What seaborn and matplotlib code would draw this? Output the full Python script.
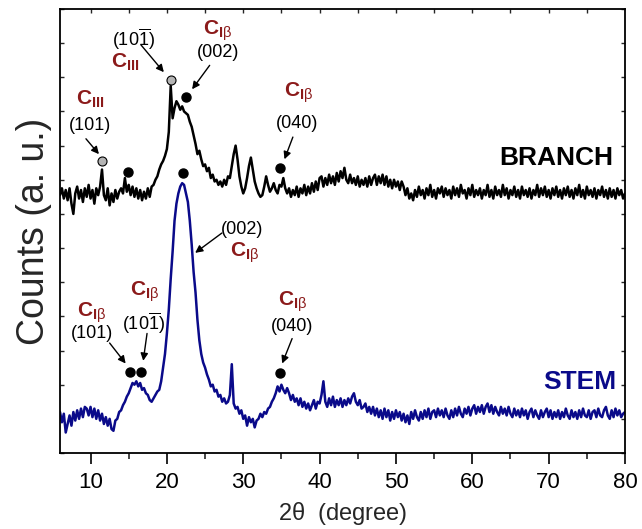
import numpy as np
import pandas as pd
import matplotlib
matplotlib.use("Agg")
import matplotlib.pyplot as plt
import seaborn as sns

# ---------------- data ----------------
# scan positions (2-theta, degrees), step 0.25
two_theta = np.round(np.arange(6.0, 80.001, 0.25), 2)

branch = [
    7.55, 7.75, 7.45, 7.7, 7.4, 7.75, 7.3, 7.0, 7.6, 7.8, 7.45, 7.7, 7.35, 7.75, 7.5, 7.85, 7.45, 7.7, 7.3, 7.75,
    7.55, 7.8, 8.3, 7.55, 7.4, 7.75, 7.25, 7.6, 7.35, 7.7, 7.45, 7.65, 7.75, 7.6, 8.05, 7.65, 7.85, 7.55, 7.8, 7.5,
    7.75, 7.45, 7.7, 7.4, 7.65, 7.45, 7.75, 7.5, 7.8, 7.85, 8.0, 8.1, 8.3, 8.45, 8.55, 8.7, 8.9, 9.4, 10.75, 9.8,
    10.1, 10.3, 10.2, 10.05, 10.15, 10.0, 9.95, 9.9, 9.7, 9.55, 9.3, 9.05, 8.75, 8.85, 8.6, 8.4, 8.45, 8.25, 8.35, 8.05,
    8.15, 7.95, 8.0, 7.85, 7.95, 7.8, 8.0, 7.85, 8.1, 8.05, 8.4, 8.75, 9.0, 8.6, 8.1, 7.8, 7.6, 7.75, 8.05, 8.4,
    8.65, 8.3, 7.95, 7.75, 7.6, 7.5, 7.55, 7.8, 8.1, 7.85, 7.65, 7.75, 7.9, 7.7, 7.6, 7.85, 7.8, 8.05, 7.75, 7.6,
    7.75, 7.5, 7.7, 7.55, 7.8, 7.5, 7.75, 7.6, 7.85, 7.55, 7.8, 7.6, 7.9, 7.65, 7.95, 7.7, 8.05, 8.1, 7.8, 8.05,
    7.85, 8.15, 7.9, 8.1, 7.85, 8.2, 7.95, 8.25, 8.05, 8.35, 8.0, 7.9, 8.15, 7.9, 8.05, 7.85, 8.1, 7.8, 8.0, 7.85,
    8.05, 7.8, 8.1, 7.85, 8.05, 8.15, 7.85, 8.1, 7.9, 8.15, 7.85, 8.1, 7.8, 8.0, 7.75, 8.0, 7.8, 7.95, 7.7, 7.95,
    7.8, 7.55, 7.75, 7.45, 7.6, 7.4, 7.7, 7.5, 7.8, 7.55, 7.7, 7.45, 7.75, 7.55, 7.85, 7.5, 7.7, 7.45, 7.75, 7.6,
    7.8, 7.5, 7.75, 7.55, 7.7, 7.45, 7.8, 7.55, 7.75, 7.5, 7.85, 7.6, 7.7, 7.45, 7.75, 7.55, 7.85, 7.5, 7.7, 7.55,
    7.75, 7.45, 7.7, 7.55, 7.85, 7.5, 7.7, 7.45, 7.8, 7.55, 7.7, 7.5, 7.85, 7.55, 7.75, 7.45, 7.7, 7.55, 7.8, 7.5,
    7.7, 7.45, 7.8, 7.55, 7.7, 7.5, 7.75, 7.45, 7.7, 7.55, 7.85, 7.5, 7.75, 7.55, 7.8, 7.5, 7.7, 7.45, 7.75, 7.55,
    7.8, 7.5, 7.7, 7.45, 7.75, 7.55, 7.8, 7.5, 7.7, 7.45, 7.75, 7.55, 7.85, 7.5, 7.7, 7.45, 7.8, 7.55, 7.7, 7.5,
    7.75, 7.45, 7.7, 7.55, 7.8, 7.5, 7.7, 7.45, 7.75, 7.5, 7.7, 7.45, 7.75, 7.55, 7.7, 7.45, 7.6,
]

stem = [
    1.2, 0.9, 1.15, 0.6, 0.85, 1.1, 0.8, 1.2, 0.95, 1.25, 1.0, 1.3, 1.05, 1.35, 1.3, 1.1, 1.35, 1.05, 1.3, 1.0,
    1.25, 0.95, 1.15, 0.85, 1.05, 0.8, 1.0, 0.7, 0.65, 0.95, 1.0, 1.2, 1.25, 1.4, 1.5, 1.65, 1.75, 1.9, 2.05, 2.0,
    2.1, 1.95, 2.05, 1.85, 1.9, 1.75, 1.7, 1.55, 1.5, 1.6, 1.7, 1.8, 1.85, 2.1, 2.5, 2.9, 3.5, 4.2, 5.1, 5.9,
    6.8, 7.3, 7.6, 7.8, 7.9, 7.85, 7.6, 7.35, 6.8, 6.1, 5.3, 4.7, 3.9, 3.3, 2.9, 2.65, 2.5, 2.3, 2.15, 1.95,
    2.0, 1.8, 1.85, 1.65, 1.7, 1.5, 1.6, 1.45, 1.5, 1.7, 2.6, 1.45, 1.3, 1.35, 1.15, 1.25, 1.0, 1.1, 0.8, 1.05,
    0.9, 1.0, 0.75, 0.95, 1.0, 1.15, 1.05, 1.2, 1.15, 1.3, 1.35, 1.5, 1.6, 1.75, 1.95, 1.8, 2.0, 1.85, 1.75, 1.9,
    1.75, 1.55, 1.7, 1.5, 1.6, 1.4, 1.6, 1.35, 1.5, 1.3, 1.45, 1.25, 1.4, 1.55, 1.3, 1.5, 1.45, 1.7, 2.1, 1.5,
    1.35, 1.6, 1.4, 1.65, 1.35, 1.55, 1.4, 1.6, 1.35, 1.55, 1.4, 1.6, 1.45, 1.65, 1.75, 1.5, 1.4, 1.55, 1.3, 1.35,
    1.45, 1.2, 1.35, 1.15, 1.35, 1.1, 1.3, 1.05, 1.25, 1.0, 1.3, 1.05, 1.25, 0.95, 1.2, 1.0, 1.25, 1.05, 1.2, 0.95,
    1.15, 0.9, 1.1, 0.85, 1.2, 1.0, 1.25, 1.05, 0.95, 1.2, 1.0, 1.25, 1.05, 1.3, 1.0, 1.2, 1.25, 1.05, 1.3, 1.1,
    1.25, 1.05, 1.3, 1.1, 1.0, 1.25, 1.05, 1.3, 1.1, 1.35, 1.15, 1.05, 1.3, 1.15, 1.35, 1.1, 1.3, 1.4, 1.15, 1.35,
    1.2, 1.4, 1.15, 1.35, 1.45, 1.2, 1.4, 1.15, 1.35, 1.2, 1.1, 1.35, 1.15, 1.3, 1.1, 1.35, 1.15, 1.05, 1.3, 1.1,
    1.25, 1.05, 1.3, 1.1, 1.25, 1.0, 1.2, 1.3, 1.05, 1.25, 1.1, 1.0, 1.25, 1.05, 1.2, 1.3, 1.05, 1.25, 1.0, 1.2,
    1.05, 1.25, 1.0, 1.2, 1.05, 1.3, 1.1, 1.0, 1.25, 1.05, 1.2, 1.0, 1.25, 1.05, 1.3, 1.1, 1.05, 1.25, 1.0, 1.2,
    1.25, 1.05, 1.3, 1.1, 1.05, 1.25, 1.35, 1.1, 1.0, 1.25, 1.05, 1.3, 1.1, 1.25, 1.05, 1.15, 1.2,
]

n = min(len(two_theta), len(branch), len(stem))

# peak markers
branch_cIII_x = [11.5, 20.5]
branch_cIII_y = [8.55, 10.92]
branch_cIb_x = [14.9, 22.5, 34.8]
branch_cIb_y = [8.23, 10.42, 8.35]
stem_cIb_x = [15.2, 16.6, 22.1, 34.8]
stem_cIb_y = [2.37, 2.37, 8.2, 2.34]

xticks = [10, 20, 30, 40, 50, 60, 70, 80]

# ---------------- style ----------------
sns.set_theme(style="ticks")
plt.rcParams["font.family"] = ["Liberation Sans", "DejaVu Sans"]
plt.rcParams["mathtext.fontset"] = "custom"
plt.rcParams["mathtext.rm"] = "Liberation Sans"
plt.rcParams["mathtext.bf"] = "Liberation Sans:bold"
plt.rcParams["mathtext.it"] = "Liberation Sans:italic"

RED = "#8b1a1a"
NAVY = "#0a0a8a"

fig = plt.figure(figsize=(6.42, 5.29), dpi=100)
ax = fig.add_axes([60 / 642, 76 / 529, 565 / 642, 444 / 529])

df_b = pd.DataFrame({"two_theta": two_theta[:n], "counts": branch[:n]})
df_s = pd.DataFrame({"two_theta": two_theta[:n], "counts": stem[:n]})
sns.lineplot(data=df_b, x="two_theta", y="counts", color="black", lw=1.8, ax=ax)
sns.lineplot(data=df_s, x="two_theta", y="counts", color=NAVY, lw=1.8, ax=ax)

# markers
ax.plot(branch_cIII_x, branch_cIII_y, "o", ms=6.5, mfc="#b4b4b4", mec="black", mew=0.8, zorder=5)
ax.plot(branch_cIb_x, branch_cIb_y, "o", ms=6.5, color="black", zorder=5)
ax.plot(stem_cIb_x, stem_cIb_y, "o", ms=6.5, color="black", zorder=5)

CIII = r"$\mathbf{C}_{\mathbf{III}}$"
CIB = r"$\mathbf{C}_{\mathbf{I}\mathrm{\beta}}$"
HKL_BAR = r"(10$\overline{\mathrm{1}}$)"

def label(x, y, s, color="black", size=13):
    ax.text(x, y, s, color=color, fontsize=size, ha="center", va="center")

def arrow(x0, y0, x1, y1):
    ax.annotate("", xy=(x1, y1), xytext=(x0, y0),
                arrowprops=dict(arrowstyle="-|>", color="black", lw=1.0,
                                mutation_scale=11, shrinkA=0, shrinkB=0))

# BRANCH annotations
label(9.9, 10.34, CIII, RED, 15)
label(9.9, 9.6, "(101)")
arrow(9.4, 9.2, 11.1, 8.75)

label(15.6, 12.1, HKL_BAR)
label(14.6, 11.45, CIII, RED, 15)
arrow(16.6, 11.95, 19.6, 11.15)

label(26.7, 12.35, CIB, RED, 15)
label(26.7, 11.72, "(002)")
arrow(25.6, 11.35, 23.3, 10.65)

label(37.3, 10.55, CIB, RED, 15)
label(37.0, 9.66, "(040)")
arrow(36.5, 9.25, 35.4, 8.6)

# STEM annotations
label(29.9, 6.53, "(002)")
label(30.2, 5.86, CIB, RED, 15)
arrow(27.2, 6.44, 23.7, 5.86)

label(10.2, 4.1, CIB, RED, 15)
label(10.2, 3.51, "(101)")
arrow(12.5, 3.22, 14.6, 2.62)

label(17.1, 4.71, CIB, RED, 15)
label(16.9, 3.8, HKL_BAR)
arrow(17.4, 3.5, 16.9, 2.7)

label(36.5, 4.42, CIB, RED, 15)
label(36.4, 3.69, "(040)")
arrow(36.4, 3.35, 35.1, 2.62)

ax.text(78.5, 8.64, "BRANCH", fontsize=19, fontweight="bold", color="black", ha="right", va="center")
ax.text(78.9, 2.08, "STEM", fontsize=19, fontweight="bold", color=NAVY, ha="right", va="center")

# axes
ax.set_xlim(6, 80)
ax.set_ylim(0, 13)
ax.set_xticks(xticks)
ax.set_xticks([15, 25, 35, 45, 55, 65, 75], minor=True)
ax.set_yticks(range(0, 14))
ax.tick_params(axis="x", which="major", direction="out", length=8, width=1.2,
               labelsize=16, pad=6, top=False, colors="black")
ax.tick_params(axis="x", which="minor", direction="out", length=4, width=1.2, top=False)
ax.tick_params(axis="y", which="major", direction="in", length=3, width=1.0,
               left=True, right=True, labelleft=False, labelright=False)
sec = ax.secondary_xaxis("top")
sec.set_xticks(list(range(10, 80, 5)))
sec.tick_params(direction="in", length=3, width=1.0, labeltop=False)
sec.spines["top"].set_visible(False)

for sp in ax.spines.values():
    sp.set_visible(True)
    sp.set_linewidth(1.3)
    sp.set_color("black")

ax.set_xlabel(r"2$\mathrm{\theta}$  (degree)", fontsize=17, labelpad=5)
ax.set_ylabel("Counts (a. u.)", fontsize=27, labelpad=6)

fig.savefig("out.png", dpi=100)
